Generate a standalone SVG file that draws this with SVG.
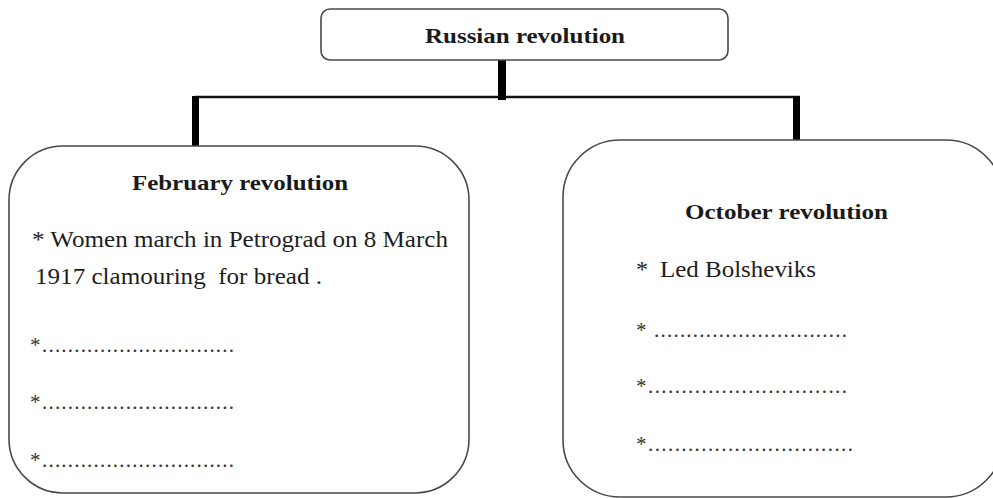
<svg xmlns="http://www.w3.org/2000/svg" width="993" height="498" viewBox="0 0 993 498">
  <style>
    .box { fill: #ffffff; stroke: #4a4a4a; stroke-width: 1.6; }
    .title { font-family: "Liberation Serif", "Times New Roman", serif; font-weight: bold; font-size: 22px; fill: #1a1a1a; }
    .body { font-family: "Liberation Serif", "Times New Roman", serif; font-size: 24px; fill: #1e1e1e; }
    .fill { font-family: "Liberation Serif", "Times New Roman", serif; font-size: 21px; fill: #333333; }
    .bar { fill: #000000; }
    .rail { stroke: #111111; stroke-width: 2.5; fill: none; }
  </style>
  <rect width="993" height="498" fill="#ffffff"/>

  <!-- connectors: stub from the root, horizontal rail, drops to both branches -->
  <g id="connectors">
    <line class="rail" x1="195" y1="97" x2="800" y2="97"/>
    <rect class="bar" x="498" y="53" width="8" height="47"/>
    <rect class="bar" x="192" y="96" width="7" height="51"/>
    <rect class="bar" x="793" y="96" width="7" height="44"/>
  </g>

  <!-- root node -->
  <g id="russian-revolution">
    <rect class="box" x="321" y="9" width="407" height="51" rx="9" ry="9"/>
    <text class="title" x="425" y="43" textLength="200" lengthAdjust="spacingAndGlyphs">Russian revolution</text>
  </g>

  <!-- left branch -->
  <g id="february-revolution">
    <rect class="box" x="9" y="146" width="460" height="347" rx="54" ry="54"/>
    <text class="title" x="132" y="190" textLength="216" lengthAdjust="spacingAndGlyphs">February revolution</text>
    <text class="body" x="32" y="247" textLength="416" lengthAdjust="spacingAndGlyphs">* Women march in Petrograd on 8 March</text>
    <text class="body" x="35" y="284" textLength="287" lengthAdjust="spacingAndGlyphs" xml:space="preserve">1917 clamouring  for bread .</text>
    <text class="fill" x="30" y="352">*</text>
    <text class="fill" x="42" y="352" textLength="192">..............................</text>
    <text class="fill" x="30" y="409">*</text>
    <text class="fill" x="42" y="409" textLength="192">..............................</text>
    <text class="fill" x="30" y="467">*</text>
    <text class="fill" x="42" y="467" textLength="192">..............................</text>
  </g>

  <!-- right branch -->
  <g id="october-revolution">
    <rect class="box" x="563" y="140" width="440" height="357" rx="57" ry="57"/>
    <text class="title" x="685" y="219" textLength="203" lengthAdjust="spacingAndGlyphs">October revolution</text>
    <text class="body" x="636" y="277">*</text>
    <text class="body" x="660" y="277" textLength="156" lengthAdjust="spacingAndGlyphs">Led Bolsheviks</text>
    <text class="fill" x="636" y="337">*</text>
    <text class="fill" x="654" y="337" textLength="193">..............................</text>
    <text class="fill" x="636" y="393">*</text>
    <text class="fill" x="648" y="393" textLength="199">..............................</text>
    <text class="fill" x="636" y="451">*</text>
    <text class="fill" x="648" y="451" textLength="205">...............................</text>
  </g>
</svg>
